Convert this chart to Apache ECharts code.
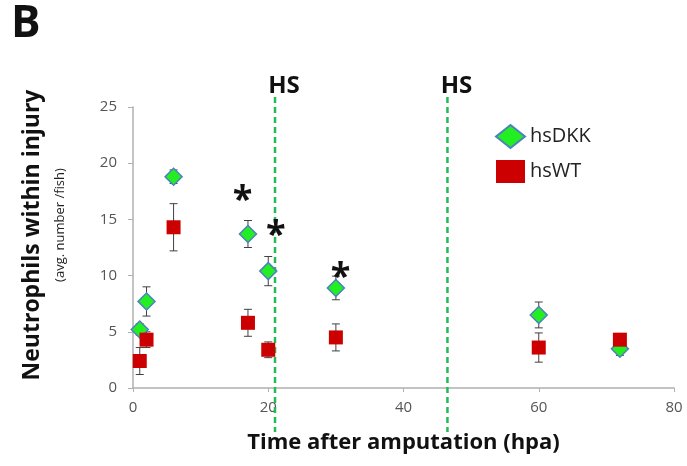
<!DOCTYPE html>
<html><head><meta charset="utf-8">
<script src="https://cdn.jsdelivr.net/npm/echarts@6/dist/echarts.min.js"></script>
<style>html,body{margin:0;padding:0;background:#fff}#c{width:687px;height:466px}</style>
</head><body><div id="c"></div>
<script>
// Data
const timesDKK = [1, 2, 6, 17, 20, 30, 60, 72];
const meanDKK  = [5.2, 7.7, 18.8, 13.7, 10.4, 8.9, 6.5, 3.5];
const errDKK   = [0.5, 1.3, 0.6, 1.2, 1.3, 1.05, 1.15, 0.6];
const timesWT  = [1, 2, 6, 17, 20, 30, 60, 72];
const meanWT   = [2.4, 4.3, 14.3, 5.8, 3.4, 4.5, 3.6, 4.3];
const errWT    = [1.2, 0.7, 2.1, 1.2, 0.7, 1.2, 1.3, 0.4];
const hsTimes  = [21, 46.5];
const starPos  = [[16.2, 17.4], [21.1, 14.3], [30.7, 10.5]];
const xTicks = [0, 20, 40, 60, 80];
const yTicks = [0, 5, 10, 15, 20, 25];

const FONT = '"Open Sans", "Liberation Sans", sans-serif';
const chart = echarts.init(document.getElementById('c'));

function errData(t, m, e) { return t.map((x, i) => [x, m[i] - e[i], m[i] + e[i]]); }
function errRender(params, api) {
  const lo = api.coord([api.value(0), api.value(1)]);
  const hi = api.coord([api.value(0), api.value(2)]);
  const w = 4;
  const st = { stroke: '#404040', lineWidth: 1 };
  return { type: 'group', children: [
    { type: 'line', shape: { x1: lo[0], y1: lo[1], x2: hi[0], y2: hi[1] }, style: st },
    { type: 'line', shape: { x1: lo[0] - w, y1: lo[1], x2: lo[0] + w, y2: lo[1] }, style: st },
    { type: 'line', shape: { x1: hi[0] - w, y1: hi[1], x2: hi[0] + w, y2: hi[1] }, style: st }
  ]};
}
function hsRender(params, api) {
  const x = api.value(0);
  const top = api.coord([x, yTicks[yTicks.length - 1]]);
  const bot = api.coord([x, 0]);
  return { type: 'group', children: [
    { type: 'line', shape: { x1: top[0], y1: top[1] - 10, x2: bot[0], y2: bot[1] + 44 },
      style: { stroke: '#22bb55', lineWidth: 2.5, lineDash: [6, 4] } },
    { type: 'text', x: top[0] + 9, y: top[1] - 21,
      style: { text: 'HS', font: 'bold 24px ' + FONT, fill: '#111', align: 'center', verticalAlign: 'middle' } }
  ]};
}
function starRender(params, api) {
  const p = api.coord([api.value(0), api.value(1)]);
  return { type: 'text', x: p[0], y: p[1] + 8,
    style: { text: '*', font: 'bold 36px ' + FONT, fill: '#111', align: 'center', verticalAlign: 'middle' } };
}

chart.setOption({
  animation: false,
  backgroundColor: '#fff',
  grid: { left: 133, right: 13, top: 107, bottom: 78 },
  graphic: [
    { type: 'text', left: 11, top: 2, style: { text: 'B', font: 'bold 44px ' + FONT, fill: '#111' } },
    { type: 'text', x: 32, y: 235, rotation: Math.PI / 2,
      style: { text: 'Neutrophils within injury', font: 'bold 23px ' + FONT, fill: '#111', align: 'center', verticalAlign: 'middle' } },
    { type: 'text', x: 60, y: 225, rotation: Math.PI / 2,
      style: { text: '(avg. number /fish)', font: '13px ' + FONT, fill: '#222', align: 'center', verticalAlign: 'middle' } }
  ],
  legend: {
    data: [
      { name: 'hsDKK', icon: 'diamond' },
      { name: 'hsWT', icon: 'rect' }
    ],
    orient: 'vertical', left: 490, top: 119, itemWidth: 29, itemHeight: 23, itemGap: 11,
    textStyle: { fontSize: 20, color: '#222', fontFamily: FONT }
  },
  xAxis: {
    type: 'value', min: xTicks[0], max: xTicks[xTicks.length - 1], interval: 20,
    name: 'Time after amputation (hpa)', nameLocation: 'middle', nameGap: 44,
    nameTextStyle: { fontSize: 22, fontWeight: 'bold', color: '#111', fontFamily: FONT },
    axisLine: { lineStyle: { color: '#b0b0b0', width: 1.5 } },
    axisTick: { show: true, length: 4, lineStyle: { color: '#b0b0b0' } },
    axisLabel: { fontSize: 15, color: '#555', fontFamily: FONT, margin: 12 },
    splitLine: { show: false }
  },
  yAxis: {
    type: 'value', min: yTicks[0], max: yTicks[yTicks.length - 1], interval: 5,
    axisLine: { show: true, lineStyle: { color: '#b0b0b0', width: 1.5 } },
    axisTick: { show: true, length: 5, lineStyle: { color: '#b0b0b0' } },
    axisLabel: { fontSize: 15, color: '#555', fontFamily: FONT, margin: 16 },
    splitLine: { show: false }
  },
  series: [
    { type: 'custom', name: 'hsLines', renderItem: hsRender, data: hsTimes.map(x => [x]), clip: false, z: 1, silent: true },
    { type: 'custom', name: 'errDKK', renderItem: errRender, data: errData(timesDKK, meanDKK, errDKK), z: 2, silent: true },
    { type: 'custom', name: 'errWT', renderItem: errRender, data: errData(timesWT, meanWT, errWT), z: 2, silent: true },
    { type: 'scatter', name: 'hsDKK', symbol: 'diamond', symbolSize: [17, 17],
      itemStyle: { color: '#22ee22', borderColor: '#4f81bd', borderWidth: 1.5, opacity: 1 },
      data: timesDKK.map((x, i) => [x, meanDKK[i]]), z: 3 },
    { type: 'scatter', name: 'hsWT', symbol: 'rect', symbolSize: [14, 14],
      itemStyle: { color: '#cc0000', opacity: 1 },
      data: timesWT.map((x, i) => [x, meanWT[i]]), z: 4 },
    { type: 'custom', name: 'stars', renderItem: starRender, data: starPos, z: 5, silent: true, clip: false }
  ]
});
</script></body></html>
